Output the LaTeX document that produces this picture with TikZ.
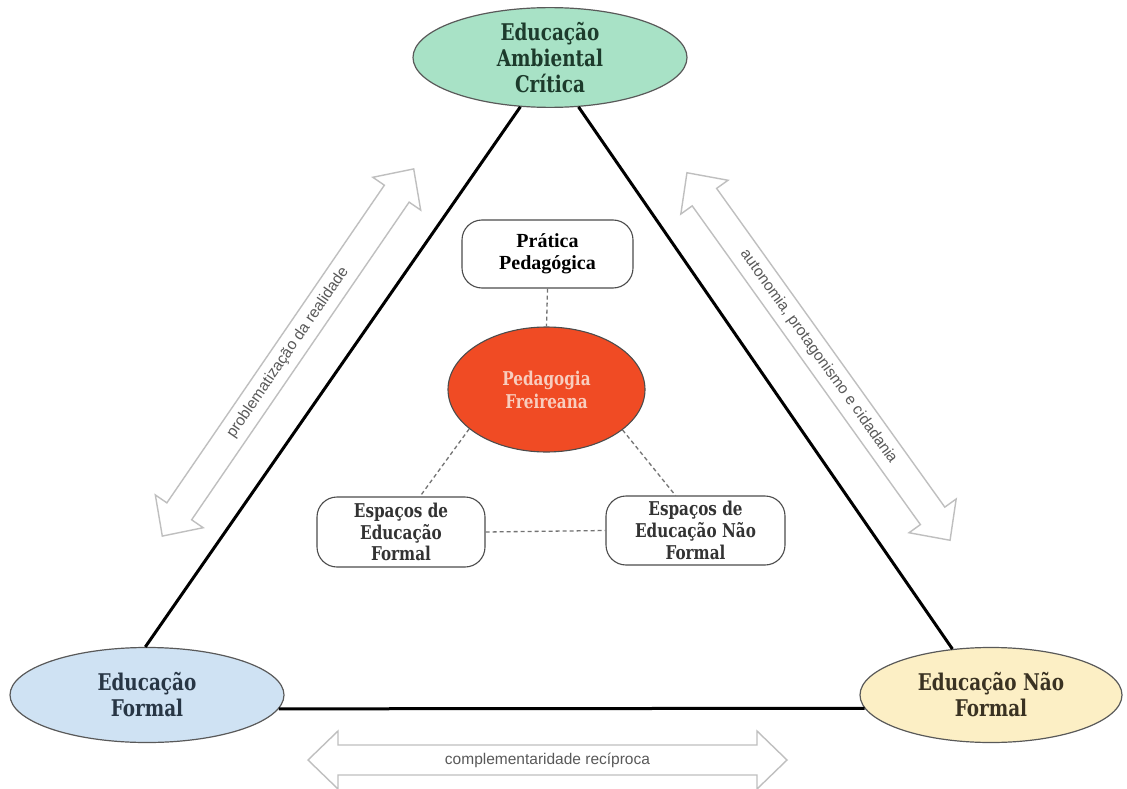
\documentclass[tikz,border=0pt]{standalone}
\usepackage{fontspec}
\setmainfont{DejaVu Serif}
\newfontfamily\slab[FakeStretch=0.8]{DejaVu Serif}
\newfontfamily\tnr{Liberation Serif}
\newfontfamily\arl{Liberation Sans}
\usetikzlibrary{shapes.geometric,calc}
\definecolor{eacfill}{HTML}{A8E2C6}
\definecolor{effill}{HTML}{CFE2F3}
\definecolor{enffill}{HTML}{FCEFC5}
\definecolor{pedfill}{HTML}{F04B24}
\definecolor{pedtext}{HTML}{F8CDBE}
\definecolor{eactext}{HTML}{1D3B2C}
\definecolor{eftext}{HTML}{283645}
\definecolor{enftext}{HTML}{3A3222}
\definecolor{boxtext}{HTML}{333333}
\newcommand\dblarrow[6]{%
\begin{scope}[shift={(#2,#3)},rotate=#4]
\draw[arrbody] ({-#5/2},0) -- ({-#5/2+30},29) -- ({-#5/2+30},15) -- ({#5/2-30},15) -- ({#5/2-30},29) -- ({#5/2},0) -- ({#5/2-30},-29) -- ({#5/2-30},-15) -- ({-#5/2+30},-15) -- ({-#5/2+30},-29) -- cycle;
\node[arrtxt,rotate=#4] (#1) at (0,0) {#6};
\end{scope}}
\begin{document}
\begin{tikzpicture}[x=1pt,y=-1pt,
  big/.style={ellipse,draw=black!65,line width=1.2pt,inner sep=0pt,align=center,
    font=\slab\bfseries\fontsize{23}{26}\selectfont},
  box/.style={rectangle,rounded corners=20pt,draw=black!70,line width=1.1pt,fill=white,
    inner sep=0pt,align=center},
  tri/.style={line width=3pt,black},
  dotline/.style={draw=black!55,line width=1.3pt,dash pattern=on 4pt off 3pt},
  arrbody/.style={draw=black!25,line width=1.4pt,fill=white},
  arrtxt/.style={font=\arl\fontsize{15.5}{16}\selectfont,text=black!65,inner sep=0pt}
]
\useasboundingbox (0,0) rectangle (1127,789);
\fill[white] (0,0) rectangle (1127,789);

% main ellipses
\node[big,fill=eacfill,text=eactext,minimum width=274pt,minimum height=92pt] (eac) at (550,57.5) {Educação\\Ambiental\\Crítica};
\node[big,fill=effill,text=eftext,minimum width=274pt,minimum height=95pt] (lef) at (147,695) {Educação\\Formal};
\node[big,fill=enffill,text=enftext,minimum width=262pt,minimum height=95pt] (rnf) at (991,695) {Educação Não\\Formal};

% triangle
\draw[tri] (eac.239.3) -- (lef.92.4);
\draw[tri] (eac.300.7) -- (rnf.130.2);
\draw[tri] (lef.-6.6) -- (rnf.186.4);

% centre
\node[ellipse,draw=black!70,line width=1.1pt,fill=pedfill,text=pedtext,inner sep=0pt,align=center,
  minimum width=197pt,minimum height=125pt,font=\slab\bfseries\fontsize{19}{23}\selectfont] (ped) at (546.5,389.5) {Pedagogia\\Freireana};
\node[box,minimum width=171pt,minimum height=68pt,text=black,font=\tnr\bfseries\fontsize{20}{22}\selectfont] (prat) at (547.5,254) {Prática\\Pedagógica};
\node[box,minimum width=168pt,minimum height=70pt,text=boxtext,font=\slab\bfseries\fontsize{19}{21.7}\selectfont] (ef) at (401,532) {Espaços de\\Educação\\Formal};
\node[box,minimum width=179pt,minimum height=69pt,text=boxtext,font=\slab\bfseries\fontsize{19}{21.7}\selectfont] (enf) at (695.5,530.5) {Espaços de\\Educação Não\\Formal};

\draw[dotline] (prat.south) -- (ped.north);
\draw[dotline] (ped.207.5) -- ([xshift=19pt]ef.north);
\draw[dotline] (ped.332.5) -- ([xshift=-20pt]enf.north);
\draw[dotline] (ef.east) -- (enf.west);

% hollow double arrows
\dblarrow{aL}{288}{352.5}{55.6}{445}{problematização da realidade}
\dblarrow{aR}{818.5}{356.5}{-54.4}{452}{autonomia, protagonismo e cidadania}
\dblarrow{aB}{547.5}{760}{0}{479}{complementaridade recíproca}
\end{tikzpicture}
\end{document}
